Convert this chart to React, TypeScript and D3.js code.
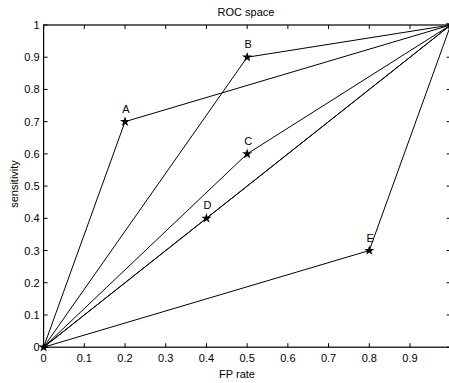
import React, { useEffect, useRef } from "react";
import * as d3 from "d3";

// classifier points in ROC space
const names = ["A", "B", "C", "D", "E"];
const fpRate = [0.2, 0.5, 0.5, 0.4, 0.8];
const sens = [0.7, 0.9, 0.6, 0.4, 0.3];

const xTicks = [0, 0.1, 0.2, 0.3, 0.4, 0.5, 0.6, 0.7, 0.8, 0.9];
const yTicks = [0, 0.1, 0.2, 0.3, 0.4, 0.5, 0.6, 0.7, 0.8, 0.9, 1];

const App = () => {
  const ref = useRef<SVGSVGElement>(null);

  useEffect(() => {
    const width = 449;
    const height = 383;
    const svg = d3.select(ref.current);
    svg.selectAll("*").remove();
    svg.attr("width", width).attr("height", height);

    const x = d3.scaleLinear().domain([0, 1]).range([43.6, 450.7]);
    const y = d3.scaleLinear().domain([0, 1]).range([347.2, 25]);
    const font = "Liberation Sans, Arial, sans-serif";

    svg
      .append("rect")
      .attr("width", width)
      .attr("height", height)
      .attr("fill", "#fff");

    // lines 0 -> point -> 1
    const line = d3
      .line<[number, number]>()
      .x((d) => x(d[0]))
      .y((d) => y(d[1]));

    const g = svg.append("g");
    g.append("path")
      .attr("d", line([[0, 0], [1, 1]]))
      .attr("fill", "none")
      .attr("stroke", "#000")
      .attr("stroke-width", 1);

    names.forEach((n, i) => {
      g.append("path")
        .attr("d", line([[0, 0], [fpRate[i], sens[i]], [1, 1]]))
        .attr("fill", "none")
        .attr("stroke", "#000")
        .attr("stroke-width", 1);
    });

    // markers
    const star = d3.symbol().type(d3.symbolStar).size(32);
    const pts: [number, number][] = [[0, 0], [1, 1]].concat(
      fpRate.map((f, i) => [f, sens[i]])
    ) as [number, number][];
    g.selectAll("path.mk")
      .data(pts)
      .join("path")
      .attr("class", "mk")
      .attr("d", star)
      .attr("transform", (d) => `translate(${x(d[0])},${y(d[1])})`)
      .attr("fill", "#000");

    // point labels
    g.selectAll("text.lb")
      .data(names)
      .join("text")
      .attr("class", "lb")
      .attr("x", (d, i) => x(fpRate[i]) + 1)
      .attr("y", (d, i) => y(sens[i]) - 9)
      .attr("text-anchor", "middle")
      .attr("font-family", font)
      .attr("font-size", 11)
      .text((d) => d);

    // box
    svg
      .append("rect")
      .attr("x", x(0))
      .attr("y", y(1))
      .attr("width", x(1) - x(0))
      .attr("height", y(0) - y(1))
      .attr("fill", "none")
      .attr("stroke", "#000")
      .attr("stroke-width", 1.2);

    // ticks inside, all four sides
    const tk = svg.append("g").attr("stroke", "#000").attr("stroke-width", 1);
    xTicks.concat([1]).forEach((t) => {
      tk.append("line").attr("x1", x(t)).attr("x2", x(t)).attr("y1", y(0)).attr("y2", y(0) - 4);
      tk.append("line").attr("x1", x(t)).attr("x2", x(t)).attr("y1", y(1)).attr("y2", y(1) + 4);
    });
    yTicks.forEach((t) => {
      tk.append("line").attr("x1", x(0)).attr("x2", x(0) + 4).attr("y1", y(t)).attr("y2", y(t));
      tk.append("line").attr("x1", x(1)).attr("x2", x(1) - 4).attr("y1", y(t)).attr("y2", y(t));
    });

    // tick labels
    svg
      .append("g")
      .selectAll("text")
      .data(xTicks)
      .join("text")
      .attr("x", (d) => x(d))
      .attr("y", y(0) + 15)
      .attr("text-anchor", "middle")
      .attr("font-family", font)
      .attr("font-size", 11)
      .text((d) => String(d));

    svg
      .append("g")
      .selectAll("text")
      .data(yTicks)
      .join("text")
      .attr("x", x(0) - 4)
      .attr("y", (d) => y(d) + 4)
      .attr("text-anchor", "end")
      .attr("font-family", font)
      .attr("font-size", 11)
      .text((d) => String(d));

    // titles
    svg
      .append("text")
      .attr("x", 246)
      .attr("y", 16)
      .attr("text-anchor", "middle")
      .attr("font-family", font)
      .attr("font-size", 11)
      .text("ROC space");

    svg
      .append("text")
      .attr("x", 237)
      .attr("y", 378)
      .attr("text-anchor", "middle")
      .attr("font-family", font)
      .attr("font-size", 11)
      .text("FP rate");

    svg
      .append("text")
      .attr("transform", `translate(18,184) rotate(-90)`)
      .attr("text-anchor", "middle")
      .attr("font-family", font)
      .attr("font-size", 11)
      .text("sensitivity");
  }, []);

  return (
    <div style={{ position: "fixed", left: 0, top: 0 }}>
      <svg ref={ref} style={{ display: "block" }}></svg>
    </div>
  );
};

export default App;
